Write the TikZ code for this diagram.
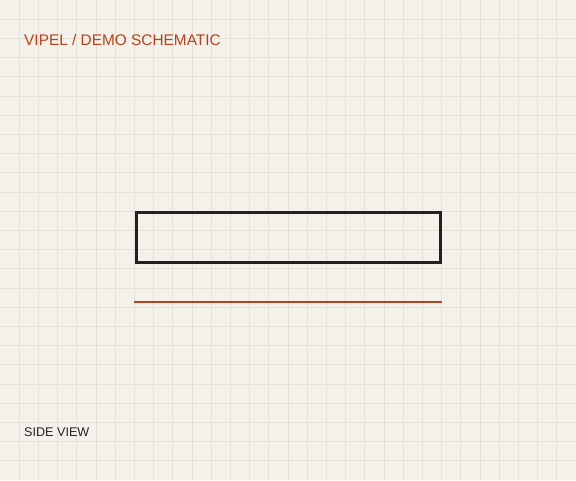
\documentclass[tikz,border=0pt]{standalone}
\usepackage{fontspec}
\setmainfont{Liberation Sans}
\definecolor{paper}{HTML}{F4F1EA}
\definecolor{gridline}{HTML}{E6E1D7}
\definecolor{rust}{HTML}{B5421F}
\definecolor{ink}{HTML}{222222}
\begin{document}
\begin{tikzpicture}[x=1pt,y=-1pt]
\newcommand{\cell}{19.2}
\tikzstyle{label}= [anchor=base west,inner sep=0pt];
  \fill[paper] (0,0) rectangle (576,480);
  \useasboundingbox (0,0) rectangle (576,480);
    \foreach \i in {1,...,29}{
      \draw[gridline,line width=0.7pt] (\i*\cell,0) -- (\i*\cell,480);
    }
    \foreach \j in {1,...,24}{
      \draw[gridline,line width=0.7pt] (0,\j*\cell) -- (576,\j*\cell);
    }

    \node(title)[label,text=rust,font=\fontsize{15.4}{18}\selectfont] at (24,45) {VIPEL / DEMO SCHEMATIC};
    \node(caption)[label,text=ink,font=\fontsize{12.6}{16}\selectfont] at (24,436) {SIDE VIEW};

    \node(body)[draw=ink,line width=3pt,minimum width=304pt,minimum height=50pt,inner sep=0pt,outer sep=0pt,anchor=north west] at (136,212.5) {};
    \draw[rust,line width=2pt] (134,302) -- (442,302);

  \end{tikzpicture}
\end{document}
